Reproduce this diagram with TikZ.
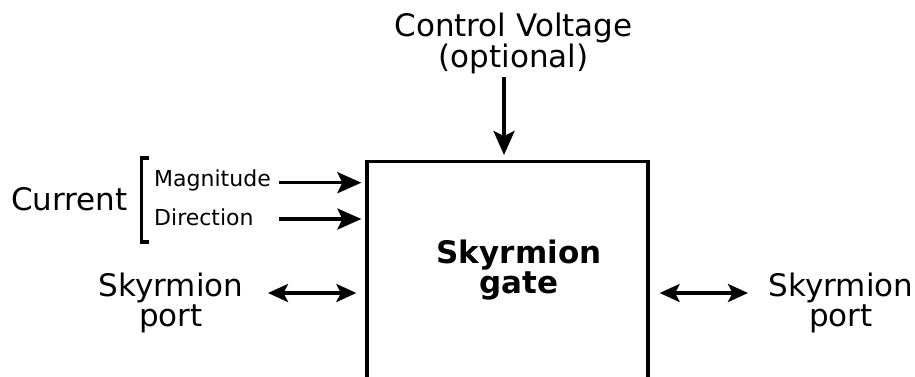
\documentclass[tikz,border=0pt]{standalone}
\usepackage{fontspec}
\setmainfont{DejaVu Sans}
\usetikzlibrary{arrows.meta}
\begin{document}
\begin{tikzpicture}[x=1pt,y=-1pt,
  big/.style={font=\fontsize{31}{29.5}\selectfont, inner sep=0pt, align=center},
  small/.style={font=\fontsize{22}{26}\selectfont, inner sep=0pt},
  arr/.style={line width=3.3pt, -{Stealth[length=24pt,width=21pt,inset=5pt]}},
  darr/.style={line width=3.3pt, {Stealth[length=20pt,width=18pt,inset=4.5pt]}-{Stealth[length=20pt,width=18pt,inset=4.5pt]}},
  thick3/.style={line width=3.3pt}
]
\useasboundingbox (0,0) rectangle (915,376);
\clip (0,0) rectangle (915,376);
% gate box
\node[thick3, draw, minimum width=281pt, minimum height=300pt, anchor=north, inner sep=0pt] (gate) at (507.5,160) {};
\node[big, font=\fontsize{31}{29.5}\selectfont\bfseries, anchor=base] (gatelabel) at (519,293) {Skyrmion\\gate};
% control voltage
\node[big, anchor=base] (cv) at (513.5,67) {Control Voltage\\(optional)};
\coordinate (cvs) at (504,77);
\draw[arr] (cvs) -- ([yshift=5pt]cvs |- gate.north);
% current
\node[big, anchor=base west] (current) at (11,210) {Current};
\node[small, anchor=base west] (mag) at (154,186) {Magnitude};
\node[small, anchor=base west] (dir) at (154,225) {Direction};
\coordinate (bt) at (141.5,158);
\coordinate (bb) at (141.5,242);
\draw[thick3] ([xshift=7pt]bt) -- (bt) -- (bb) -- ([xshift=7pt]bb);
\coordinate (m0) at (279,182.7);
\coordinate (d0) at (279,219);
\draw[arr] (m0) -- ([xshift=-4pt]gate.west |- m0);
\draw[arr] (d0) -- ([xshift=-4pt]gate.west |- d0);
% ports
\node[big, anchor=base] (lport) at (171,326) {Skyrmion\\port};
\node[big, anchor=base] (rport) at (841,326) {Skyrmion\\port};
\coordinate (l0) at (268,293);
\coordinate (r0) at (748,293);
\draw[darr] (l0) -- ([xshift=-9pt]gate.west |- l0);
\draw[darr] ([xshift=10pt]gate.east |- r0) -- (r0);
\end{tikzpicture}
\end{document}
